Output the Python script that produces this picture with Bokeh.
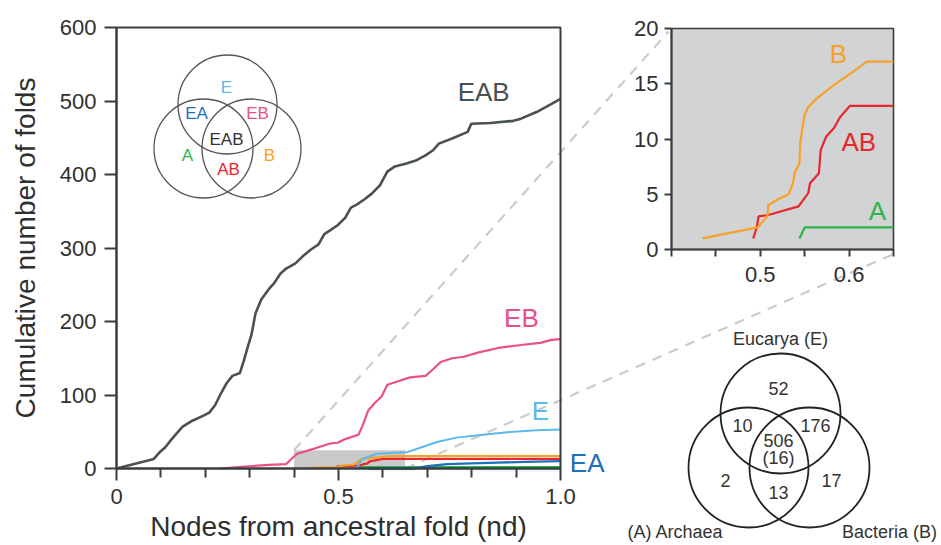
from bokeh.plotting import figure
from bokeh.models import Range1d, LinearAxis, FixedTicker
from bokeh.core.properties import value
from bokeh.embed import file_html
from bokeh.resources import INLINE

FONT = "Liberation Sans"

# ---------------- data ----------------
# main panel: cumulative number of folds vs nd
eab_x = [0, 0.084, 0.097, 0.110, 0.123, 0.136, 0.149, 0.171, 0.196, 0.209, 0.222, 0.235,
         0.248, 0.261, 0.278, 0.287, 0.295, 0.304, 0.313, 0.326, 0.343, 0.356, 0.369,
         0.382, 0.403, 0.420, 0.438, 0.455, 0.468, 0.481, 0.498, 0.515, 0.528, 0.541,
         0.558, 0.575, 0.593, 0.610, 0.627, 0.653, 0.674, 0.696, 0.713, 0.726, 0.756,
         0.791, 0.799, 0.842, 0.894, 0.911, 0.946, 0.980, 1.0]
eab_y = [0, 13, 22, 29, 39, 48, 57, 65, 72, 76, 86, 102,
         116, 126, 130, 147, 164, 182, 211, 230, 244, 253, 265,
         272, 279, 289, 298, 305, 319, 324, 331, 341, 355, 359,
         366, 374, 385, 404, 411, 415, 419, 426, 433, 442, 449,
         458, 469, 470, 473, 476, 485, 496, 503]

eb_x = [0.235, 0.274, 0.343, 0.382, 0.394, 0.407, 0.429, 0.455, 0.481, 0.498, 0.515,
        0.545, 0.554, 0.567, 0.580, 0.597, 0.610, 0.636, 0.661, 0.696, 0.713, 0.730,
        0.756, 0.782, 0.816, 0.860, 0.911, 0.954, 0.980, 1.0]
eb_y = [0, 2, 5, 6, 13, 20, 24, 29, 34, 35, 40,
        46, 58, 79, 88, 98, 114, 119, 124, 126, 135, 145,
        150, 152, 158, 164, 168, 171, 175, 176]

e_x = [0.541, 0.553, 0.587, 0.653, 0.687, 0.722, 0.765, 0.825, 0.894, 0.946, 1.0]
e_y = [0, 13, 20, 22, 29, 36, 42, 46, 50, 52, 53]

ea_x = [0.568, 0.670, 0.700, 0.745, 0.800, 0.857, 0.920, 1.0]
ea_y = [0, 0, 3, 6, 7, 8, 9, 10]

# series also shown (magnified) in the inset
b_x = [0.435, 0.497, 0.508, 0.509, 0.519, 0.532, 0.537, 0.539, 0.544, 0.545, 0.547,
       0.550, 0.554, 0.564, 0.583, 0.601, 0.620, 0.650, 1.0]
b_y = [1, 2, 3, 4, 4.5, 5, 6.1, 7, 7.8, 9.6, 10.8,
       12.2, 12.9, 13.7, 14.9, 15.9, 17, 17, 17]

ab_x = [0.492, 0.496, 0.498, 0.508, 0.543, 0.554, 0.556, 0.566, 0.568, 0.574, 0.583,
        0.590, 0.601, 0.650, 1.0]
ab_y = [1, 2, 3, 3.1, 3.9, 5.1, 6, 6.9, 9, 10.2, 11, 12, 13, 13, 13]

a_x = [0.544, 0.550, 0.650, 1.0]
a_y = [1, 2, 2, 2]

main_yticks = [0, 100, 200, 300, 400, 500, 600]
main_xticks = [0, 0.5, 1.0]
main_xtick_labels = ["0", "0.5", "1.0"]
main_xminor = [0.1, 0.2, 0.3, 0.4, 0.6, 0.7, 0.8, 0.9]

inset_yticks = [0, 5, 10, 15, 20]
inset_xticks = [0.5, 0.6]
inset_xtick_labels = ["0.5", "0.6"]
inset_xminor = [0.4, 0.45, 0.55, 0.65]

venn_counts = ["52", "10", "176", "506", "(16)", "2", "13", "17"]
venn_sets = ["Eucarya (E)", "(A) Archaea", "Bacteria (B)"]
key_regions = ["E", "EA", "EB", "EAB", "A", "AB", "B"]

# ---------------- layout (page pixels) ----------------
W, H = 941, 545
MAIN_L, MAIN_R, MAIN_T, MAIN_B = 116, 560, 27, 468
MAIN_X = (0.0, 1.0)
MAIN_Y = (0.0, 600.0)
INS_L, INS_R, INS_T, INS_B = 671, 893, 28, 249
INS_X = (0.40, 0.65)
INS_Y = (0.0, 20.0)
ZOOM_TOP = 25.0   # height of grey zoom box drawn in the main panel


def xrange_for(lo, hi, pl, pr):
    s = (pr - pl) / (hi - lo)
    return Range1d(lo - pl / s, lo + (W - pl) / s)


def yrange_for(lo, hi, pt, pb):
    s = (pb - pt) / (hi - lo)
    return Range1d(lo - (H - pb) / s, lo + pb / s)


def main_to_page(x, y):
    px = MAIN_L + (x - MAIN_X[0]) / (MAIN_X[1] - MAIN_X[0]) * (MAIN_R - MAIN_L)
    py = MAIN_B - (y - MAIN_Y[0]) / (MAIN_Y[1] - MAIN_Y[0]) * (MAIN_B - MAIN_T)
    return px, py


p = figure(width=W, height=H, x_range=Range1d(0, W), y_range=Range1d(H, 0),
           x_axis_type=None, y_axis_type=None, toolbar_location=None,
           output_backend="svg", min_border=0, title=None)
p.outline_line_color = None
p.background_fill_color = "white"
p.extra_x_ranges = {"mx": xrange_for(*MAIN_X, MAIN_L, MAIN_R),
                    "ix": xrange_for(*INS_X, INS_L, INS_R)}
p.extra_y_ranges = {"my": yrange_for(*MAIN_Y, MAIN_T, MAIN_B),
                    "iy": yrange_for(*INS_Y, INS_T, INS_B)}

M = dict(x_range_name="mx", y_range_name="my")
I = dict(x_range_name="ix", y_range_name="iy")

AX = "#3a3d3e"
TXT = "#2f2f2f"
C_EAB = "#4a5152"
C_EB = "#ea4f86"
C_E = "#5cb9e9"
C_EA = "#1f6fbf"
C_B = "#f7a128"
C_AB = "#e8262e"
C_A = "#2fb34b"
DASH = "#cbcbcb"

# dashed connectors (zoom box -> inset)
x1, y1 = main_to_page(INS_X[0], ZOOM_TOP)
x2, y2 = main_to_page(INS_X[1], 0)
p.segment(x0=[x1, x2], y0=[y1, y2], x1=[INS_L - 3, INS_R - 1], y1=[INS_T + 3, INS_B + 5],
          line_color=DASH, line_width=2.2, line_dash="10 8")

# grey zoom region in the main panel
p.quad(left=[INS_X[0]], right=[INS_X[1]], bottom=[0], top=[ZOOM_TOP],
       fill_color="#c9c9c9", line_color=None, **M)

# main curves
p.line(a_x, a_y, line_color=C_A, line_width=2.0, **M)
p.line(ea_x, ea_y, line_color=C_EA, line_width=2.4, **M)
p.line(ab_x, ab_y, line_color=C_AB, line_width=2.2, **M)
p.line(b_x, b_y, line_color=C_B, line_width=2.2, **M)
p.line(e_x, e_y, line_color=C_E, line_width=2.0, **M)
p.line(eb_x, eb_y, line_color=C_EB, line_width=2.2, **M)
p.line(eab_x, eab_y, line_color=C_EAB, line_width=2.6, **M)

# main frame box
p.quad(left=[MAIN_X[0]], right=[MAIN_X[1]], bottom=[MAIN_Y[0]], top=[MAIN_Y[1]],
       fill_color=None, line_color=AX, line_width=2, **M)

# curve labels (main)
p.text(x=[0.827, 0.912, 0.955, 1.06], y=[512, 205, 78, 8],
       text=["EAB", "EB", "E", "EA"], text_color=[C_EAB, C_EB, C_E, C_EA],
       text_font=value(FONT), text_font_size="26px", text_align="center",
       text_baseline="middle", **M)

# inset background + curves
p.quad(left=[INS_X[0]], right=[INS_X[1]], bottom=[INS_Y[0]], top=[INS_Y[1]],
       fill_color="#d1d3d4", line_color=AX, line_width=1.6, **I)


def clip(xs, ys):
    pts = [(x, y) for x, y in zip(xs, ys) if x <= INS_X[1]]
    return [q[0] for q in pts], [q[1] for q in pts]


for xs, ys, c in [(a_x, a_y, C_A), (ab_x, ab_y, C_AB), (b_x, b_y, C_B)]:
    cx, cy = clip(xs, ys)
    p.line(cx, cy, line_color=c, line_width=2.2, **I)

p.text(x=[0.588, 0.611, 0.632], y=[17.7, 9.7, 3.5], text=["B", "AB", "A"],
       text_color=[C_B, C_AB, C_A], text_font=value(FONT), text_font_size="26px",
       text_align="center", text_baseline="middle", **I)


# ---------------- axes ----------------
def style_axis(ax, label_size="22px"):
    ax.axis_line_color = AX
    ax.axis_line_width = 2
    ax.major_tick_line_color = AX
    ax.major_tick_line_width = 2
    ax.minor_tick_line_color = AX
    ax.minor_tick_line_width = 2
    ax.major_tick_in = 0
    ax.minor_tick_in = 0
    ax.major_label_text_font = FONT
    ax.major_label_text_font_size = label_size
    ax.major_label_text_color = TXT
    ax.axis_label_text_font = FONT
    ax.axis_label_text_font_style = "normal"
    ax.axis_label_text_font_size = "28px"
    ax.axis_label_text_color = TXT


ay = LinearAxis(fixed_location=MAIN_X[0], bounds=MAIN_Y,
                ticker=FixedTicker(ticks=main_yticks),
                axis_label="Cumulative number of folds", **M)
style_axis(ay)
ay.major_tick_out = 12
ay.major_label_standoff = 8
ay.axis_label_standoff = 16
p.add_layout(ay, "left")

ax = LinearAxis(fixed_location=MAIN_Y[0], bounds=MAIN_X,
                ticker=FixedTicker(ticks=main_xticks, minor_ticks=main_xminor),
                major_label_overrides=dict(zip(main_xticks, main_xtick_labels)),
                axis_label="Nodes from ancestral fold (nd)", **M)
style_axis(ax)
ax.major_tick_out = 12
ax.minor_tick_out = 9
ax.major_label_standoff = 8
ax.axis_label_standoff = 4
p.add_layout(ax, "below")

iay = LinearAxis(fixed_location=INS_X[0], bounds=INS_Y,
                 ticker=FixedTicker(ticks=inset_yticks), **I)
style_axis(iay)
iay.major_tick_out = 7
iay.major_label_standoff = 6
p.add_layout(iay, "left")

iax = LinearAxis(fixed_location=INS_Y[0], bounds=INS_X,
                 ticker=FixedTicker(ticks=inset_xticks, minor_ticks=inset_xminor),
                 major_label_overrides=dict(zip(inset_xticks, inset_xtick_labels)), **I)
style_axis(iax)
iax.major_tick_out = 7
iax.minor_tick_out = 7
iax.major_label_standoff = 10
p.add_layout(iax, "below")

# ---------------- key Venn diagram inside main panel (page px) ----------------
p.circle(x=[227, 203, 251], y=[104, 148, 148], radius=49.5,
         fill_color=None, line_color="#555555", line_width=1.3)
p.text(x=[226, 196, 257, 226, 187, 228, 269], y=[87, 113, 113, 139, 155, 169, 155],
       text=key_regions,
       text_color=[C_E, C_EA, C_EB, "#333333", C_A, C_AB, C_B],
       text_font=value(FONT), text_font_size="17px", text_align="center",
       text_baseline="middle")

# ---------------- counts Venn diagram (page px) ----------------
p.circle(x=[780, 748, 809], y=[413, 467, 467], radius=60,
         fill_color=None, line_color="#222222", line_width=1.8)
p.text(x=[778, 742, 815, 778, 778, 725, 778, 831],
       y=[388, 425, 425, 440, 457, 480, 492, 480],
       text=venn_counts, text_color="#333333", text_font=value(FONT),
       text_font_size="18px", text_align="center", text_baseline="middle")
p.text(x=[780, 675, 889], y=[338, 531, 531], text=venn_sets, text_color="#333333",
       text_font=value(FONT), text_font_size="18px", text_align="center",
       text_baseline="middle")

open("out.html", "w").write(file_html(p, INLINE))
